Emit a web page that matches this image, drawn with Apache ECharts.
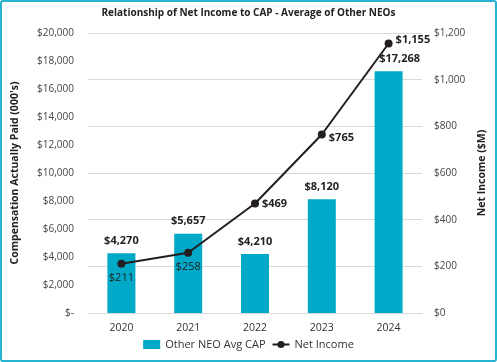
<!DOCTYPE html>
<html><head><meta charset="utf-8">
<script src="https://cdn.jsdelivr.net/npm/echarts@6/dist/echarts.min.js"></script>
<style>html,body{margin:0;padding:0;background:#fff}#wrap{position:absolute;left:0;top:0;width:493px;height:358px;border:2px solid #27b3d2;border-radius:3px}#c{width:493px;height:358px}</style>
</head><body><div id="wrap"><div id="c"></div></div>
<script>
const years = ['2020','2021','2022','2023','2024'];
const capValues = [4270, 5657, 4210, 8120, 17268];
const netIncome = [211, 258, 469, 765, 1155];
const lineLabelPos = ['bottom','bottom','right','right','right'];
const lineLabelBold = [false,false,true,true,true];
const lineLabelOffset = [[0,0],[0,0],[0,0],[0,3],[0,-4]];
const barLabelOffset = [[0,0],[0,0],[0,0],[0,0],[11,0]];

const chart = echarts.init(document.getElementById('c'));
const font = '"Open Sans", sans-serif';
const fmt = v => '$' + v.toLocaleString('en-US');
chart.setOption({
  animation:false,
  textStyle:{fontFamily:font},
  title:{text:'Relationship of Net Income to CAP - Average of Other NEOs',left:'center',top:1,
    textStyle:{fontSize:10,fontWeight:'bold',color:'#222',fontFamily:font}},
  legend:{bottom:5,left:'center',itemGap:6,itemWidth:17,itemHeight:9,
    textStyle:{fontSize:11,color:'#333',fontFamily:font},
    data:[{name:'Other NEO Avg CAP',icon:'rect'},{name:'Net Income'}]},
  grid:{left:86,right:73,top:31,bottom:47,outerBoundsMode:'none'},
  xAxis:{type:'category',data:years,
    axisLine:{lineStyle:{color:'#d9d9d9'}},axisTick:{show:false},
    axisLabel:{color:'#333',fontSize:10.5,margin:10,fontFamily:font}},
  yAxis:[
    {type:'value',min:0,max:20000,interval:2000,
     name:"Compensation Actually Paid (000's)",nameLocation:'middle',nameGap:67,nameRotate:90,
     nameTextStyle:{fontSize:10.5,fontWeight:'bold',color:'#222',fontFamily:font},
     axisLabel:{color:'#444',fontSize:10,margin:14,fontFamily:font,
       formatter:v=> v===0?'$-':fmt(v)},
     splitLine:{show:false},axisLine:{show:false},axisTick:{show:false}},
    {type:'value',min:0,max:1200,interval:200,position:'right',
     name:'Net Income ($M)',nameLocation:'middle',nameGap:47,nameRotate:90,
     nameTextStyle:{fontSize:10.5,fontWeight:'bold',color:'#222',fontFamily:font},
     axisLabel:{color:'#444',fontSize:10,margin:12,fontFamily:font,formatter:v=>fmt(v)},
     splitLine:{show:true,lineStyle:{color:'#d9d9d9',width:1}},axisLine:{show:false},axisTick:{show:false}}
  ],
  series:[
    {name:'Other NEO Avg CAP',type:'bar',yAxisIndex:0,barWidth:28,
     data:capValues.map((v,i)=>({value:v,label:{offset:barLabelOffset[i]}})),
     itemStyle:{color:'#00a9c8'},
     label:{show:true,position:'top',distance:7,formatter:p=>fmt(p.value),
       fontSize:11,fontWeight:'bold',color:'#222',fontFamily:font}},
    {name:'Net Income',type:'line',yAxisIndex:1,
     data:netIncome.map((v,i)=>({value:v,label:{position:lineLabelPos[i],offset:lineLabelOffset[i],
       fontWeight:lineLabelBold[i]?'bold':'normal',distance:lineLabelPos[i]==='right'?3:5}})),
     symbol:'circle',symbolSize:8,
     lineStyle:{color:'#231f20',width:2},itemStyle:{color:'#231f20'},
     label:{show:true,formatter:p=>fmt(p.value),fontSize:11,color:'#222',fontFamily:font}}
  ]
});
</script></body></html>
